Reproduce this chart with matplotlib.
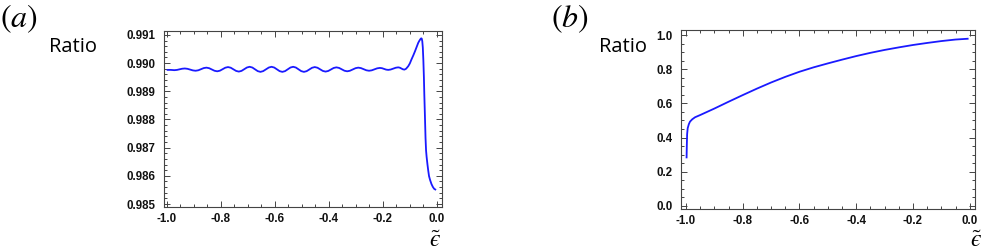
import matplotlib
matplotlib.use("Agg")
import matplotlib.pyplot as plt
from matplotlib.ticker import MultipleLocator, FormatStrFormatter

plt.rcParams['mathtext.fontset'] = 'stix'

# ---- data panel (a) ----
eps_a = [-1.000, -0.985, -0.972, -0.962, -0.9525, -0.943, -0.933,
         -0.923, -0.913, -0.903, -0.893, -0.883, -0.873, -0.863, -0.853,
         -0.843, -0.833, -0.823, -0.813, -0.803, -0.793, -0.783, -0.773,
         -0.763, -0.753, -0.743, -0.733, -0.723, -0.713, -0.703, -0.693,
         -0.683, -0.673, -0.663, -0.653, -0.643, -0.6325, -0.622, -0.612,
         -0.602, -0.592, -0.582, -0.572, -0.562, -0.552, -0.542, -0.532,
         -0.522, -0.512, -0.502, -0.492, -0.482, -0.472, -0.462, -0.452,
         -0.442, -0.432, -0.422, -0.412, -0.402, -0.392, -0.382, -0.372,
         -0.362, -0.352, -0.342, -0.332, -0.322, -0.3115, -0.301, -0.291,
         -0.281, -0.271, -0.261, -0.251, -0.241, -0.231, -0.221, -0.211,
         -0.203, -0.1955, -0.188, -0.180, -0.171, -0.1615, -0.152, -0.143,
         -0.137, -0.1315, -0.126, -0.120, -0.114, -0.106, -0.100, -0.094,
         -0.087, -0.081, -0.075, -0.069, -0.065, -0.061, -0.058, -0.056,
         -0.054, -0.052, -0.050, -0.048, -0.0465, -0.0445, -0.042, -0.040,
         -0.038, -0.035, -0.032, -0.029, -0.025, -0.020, -0.015, -0.010, -0.003]
ratio_a = [0.989760, 0.989760, 0.989750, 0.989759, 0.989780, 0.989801, 0.989810,
           0.989798, 0.989770, 0.989742, 0.989730, 0.989746, 0.989785, 0.989824, 0.989840,
           0.989821, 0.989775, 0.989729, 0.989710, 0.989732, 0.989785, 0.989838, 0.989860,
           0.989837, 0.989780, 0.989723, 0.989700, 0.989725, 0.989785, 0.989845, 0.989870,
           0.989844, 0.989780, 0.989716, 0.989690, 0.989716, 0.989780, 0.989844, 0.989870,
           0.989844, 0.989780, 0.989716, 0.989690, 0.989716, 0.989780, 0.989844, 0.989870,
           0.989844, 0.989780, 0.989716, 0.989690, 0.989715, 0.989775, 0.989835, 0.989860,
           0.989837, 0.989780, 0.989723, 0.989700, 0.989722, 0.989775, 0.989828, 0.989850,
           0.989830, 0.989780, 0.989730, 0.989710, 0.989729, 0.989775, 0.989821, 0.989840,
           0.989824, 0.989785, 0.989746, 0.989730, 0.989745, 0.989780, 0.989815, 0.989830,
           0.989820, 0.989795, 0.989770, 0.989760, 0.989773, 0.989805, 0.989837, 0.989850,
           0.989838, 0.989810, 0.989782, 0.989770, 0.989800, 0.989890, 0.989990, 0.990130,
           0.990280, 0.990420, 0.990570, 0.990720, 0.990790, 0.990850, 0.990880, 0.990870,
           0.990780, 0.990550, 0.990100, 0.989500, 0.988900, 0.988230, 0.987350, 0.986900,
           0.986680, 0.986420, 0.986190, 0.985990, 0.985850, 0.985710, 0.985610, 0.985540, 0.985500]

# ---- data panel (b) ----
eps_b = [-0.998, -0.997, -0.996, -0.994, -0.990, -0.986, -0.978, -0.968, -0.950,
         -0.900, -0.850, -0.800, -0.750, -0.700, -0.650, -0.600, -0.550, -0.500,
         -0.450, -0.400, -0.350, -0.300, -0.250, -0.200, -0.150, -0.100, -0.050, -0.004]
ratio_b = [0.278, 0.360, 0.420, 0.455, 0.478, 0.493, 0.507, 0.519, 0.532,
           0.570, 0.610, 0.649, 0.687, 0.723, 0.756, 0.786, 0.812, 0.835,
           0.857, 0.878, 0.897, 0.914, 0.929, 0.943, 0.955, 0.966, 0.975, 0.980]

xticks = [-1.0, -0.8, -0.6, -0.4, -0.2, 0.0]
yticks_a = [0.985, 0.986, 0.987, 0.988, 0.989, 0.990, 0.991]
yticks_b = [0.0, 0.2, 0.4, 0.6, 0.8, 1.0]

W, H = 982, 252
fig = plt.figure(figsize=(W / 100, H / 100), dpi=100)

frame_col = '#444444'
line_col = '#1a1aff'

def style(ax):
    for s in ax.spines.values():
        s.set_color(frame_col)
        s.set_linewidth(0.8)
    ax.tick_params(which='both', direction='in', top=True, right=True,
                   color=frame_col, width=0.7)
    ax.tick_params(which='major', length=4)
    ax.tick_params(which='minor', length=2)
    ax.tick_params(axis='y', pad=6)
    ax.tick_params(axis='x', pad=4.5)
    for lab in ax.get_xticklabels() + ax.get_yticklabels():
        lab.set_family('Liberation Sans')
        lab.set_fontweight('bold')
        lab.set_fontsize(8.3)
        lab.set_color('#111111')

axa = fig.add_axes([164 / W, 1 - 207 / H, 278 / W, 176 / H])
axa.plot(eps_a, ratio_a, color=line_col, lw=1.3, solid_capstyle='butt',
         solid_joinstyle='round')
axa.set_xlim(-1.010, 0.019)
axa.set_ylim(0.984895, 0.99114)
axa.set_xticks(xticks)
axa.set_yticks(yticks_a)
axa.xaxis.set_minor_locator(MultipleLocator(0.05))
axa.yaxis.set_minor_locator(MultipleLocator(0.0002))
axa.yaxis.set_major_formatter(FormatStrFormatter('%.3f'))
axa.xaxis.set_major_formatter(FormatStrFormatter('%.1f'))
style(axa)

axb = fig.add_axes([681 / W, 1 - 209 / H, 294 / W, 179 / H])
axb.plot(eps_b, ratio_b, color=line_col, lw=1.3, solid_capstyle='butt',
         solid_joinstyle='round')
axb.set_xlim(-1.0176, 0.0187)
axb.set_ylim(-0.0194, 1.031)
axb.set_xticks(xticks)
axb.set_yticks(yticks_b)
axb.xaxis.set_minor_locator(MultipleLocator(0.05))
axb.yaxis.set_minor_locator(MultipleLocator(0.05))
axb.yaxis.set_major_formatter(FormatStrFormatter('%.1f'))
axb.xaxis.set_major_formatter(FormatStrFormatter('%.1f'))
style(axb)

# panel labels
fig.text(0 / W, 1 - 19 / H, r'$(a)$', fontsize=23, ha='left', va='center')
fig.text(551 / W, 1 - 19 / H, r'$(b)$', fontsize=23, ha='left', va='center')

# axis labels
fig.text(49 / W, 1 - 47 / H, 'Ratio', family='Open Sans', fontsize=14.5,
         ha='left', va='center')
fig.text(599 / W, 1 - 47 / H, 'Ratio', family='Open Sans', fontsize=14.5,
         ha='left', va='center')
fig.text(435 / W, 1 - 240 / H, '$\\tilde{\u03f5}$', fontsize=17, ha='center', va='center')
fig.text(976 / W, 1 - 240 / H, '$\\tilde{\u03f5}$', fontsize=17, ha='center', va='center')

fig.savefig('out.png', dpi=100)
